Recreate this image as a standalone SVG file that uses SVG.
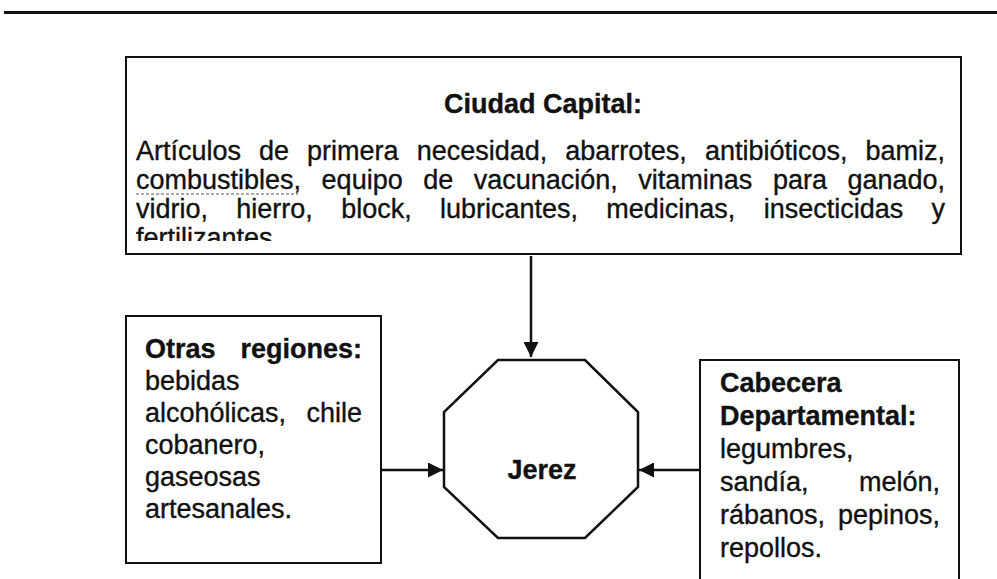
<svg xmlns="http://www.w3.org/2000/svg" width="997" height="579" viewBox="0 0 997 579">
<style>
  .box { fill: #fff; stroke: #111; stroke-width: 2; }
  .t { font-family: "Liberation Sans", Arial, sans-serif; font-size: 27px; fill: #111; stroke: #111; stroke-width: 0.35; }
  .b { font-weight: bold; }
  .edge { stroke: #111; stroke-width: 2.5; fill: none; }
</style>
<defs>
  <marker id="ah" viewBox="0 0 10 10" refX="10" refY="5" markerWidth="15" markerHeight="15" markerUnits="userSpaceOnUse" orient="auto">
    <path d="M0,0 L10,5 L0,10 z" fill="#111"/>
  </marker>
  <clipPath id="clipTop"><rect x="126" y="57" width="835" height="184"/></clipPath>
</defs>
<rect width="997" height="579" fill="#fff"/>
<line x1="4" y1="12.5" x2="997" y2="12.5" stroke="#111" stroke-width="3"/>

<g id="ciudad-capital">
  <rect class="box" x="126" y="57" width="835" height="197"/>
  <text class="t b" x="543" y="113" text-anchor="middle">Ciudad Capital:</text>
  <g clip-path="url(#clipTop)">
    <text class="t" y="160"><tspan x="136">Artículos</tspan><tspan x="259.1">de</tspan><tspan x="307.1">primera</tspan><tspan x="416.7">necesidad,</tspan><tspan x="565.3">abarrotes,</tspan><tspan x="704.9">antibióticos,</tspan><tspan x="865.5">bamiz,</tspan></text>
    <text class="t" y="189"><tspan x="136">combustibles,</tspan><tspan x="321.6">equipo</tspan><tspan x="423.2">de</tspan><tspan x="473.7">vacunación,</tspan><tspan x="638.3">vitaminas</tspan><tspan x="772.9">para</tspan><tspan x="847.4">ganado,</tspan></text>
    <text class="t" y="218"><tspan x="136">vidrio,</tspan><tspan x="236.3">hierro,</tspan><tspan x="341.2">block,</tspan><tspan x="440">lubricantes,</tspan><tspan x="606.3">medicinas,</tspan><tspan x="763.7">insecticidas</tspan><tspan x="931.5">y</tspan></text>
    <text class="t" x="136" y="247">fertilizantes</text>
  </g>
  <line x1="136" y1="194" x2="298" y2="194" stroke="#555" stroke-width="1" stroke-dasharray="3 2"/>
</g>

<g id="otras-regiones">
  <rect class="box" x="126" y="316" width="255" height="247"/>
  <text class="t b" x="145" y="358">Otras</text>
  <text class="t b" x="362" y="358" text-anchor="end">regiones:</text>
  <text class="t" x="145" y="390">bebidas</text>
  <text class="t" x="145" y="422">alcohólicas,</text>
  <text class="t" x="362" y="422" text-anchor="end">chile</text>
  <text class="t" x="145" y="454">cobanero,</text>
  <text class="t" x="145" y="486">gaseosas</text>
  <text class="t" x="145" y="518">artesanales.</text>
</g>

<g id="jerez">
  <polygon points="498,360 585,360 638,412 638,487 585,538 498,538 444,487 444,412" fill="#fff" stroke="#111" stroke-width="2.5"/>
  <text class="t b" x="542" y="479" text-anchor="middle">Jerez</text>
</g>

<g id="cabecera-departamental">
  <rect class="box" x="700" y="360" width="259" height="225"/>
  <text class="t b" x="720" y="392">Cabecera</text>
  <text class="t b" x="720" y="425">Departamental:</text>
  <text class="t" x="720" y="458">legumbres,</text>
  <text class="t" x="720" y="491">sandía,</text>
  <text class="t" x="940" y="491" text-anchor="end">melón,</text>
  <text class="t" x="720" y="524">rábanos,</text>
  <text class="t" x="940" y="524" text-anchor="end">pepinos,</text>
  <text class="t" x="720" y="557">repollos.</text>
</g>

<g id="connectors">
  <line class="edge" x1="531" y1="256" x2="531" y2="357" marker-end="url(#ah)"/>
  <line class="edge" x1="382" y1="470" x2="443" y2="470" marker-end="url(#ah)"/>
  <line class="edge" x1="699" y1="470" x2="639" y2="470" marker-end="url(#ah)"/>
</g>
</svg>
